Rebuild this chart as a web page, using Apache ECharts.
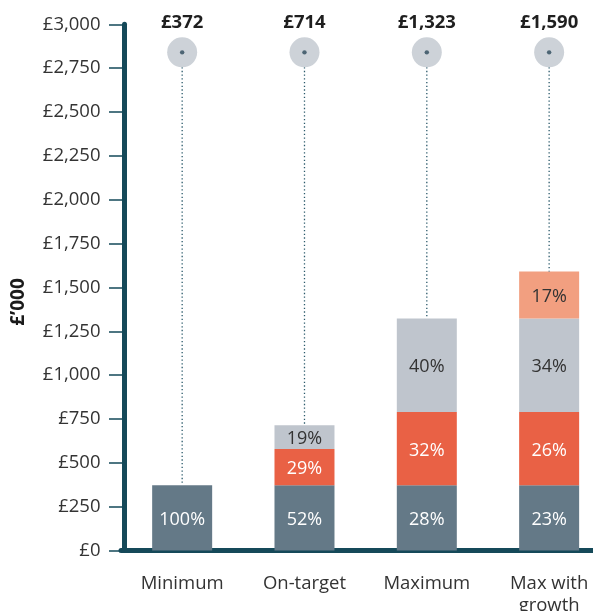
<!DOCTYPE html>
<html>
<head>
<meta charset="utf-8">
<style>
  html, body { margin: 0; padding: 0; background: #fff; overflow: hidden; }
  #chart { width: 593px; height: 611px; }
</style>
<script src="https://cdn.jsdelivr.net/npm/echarts@6/dist/echarts.min.js"></script>
</head>
<body>
<div id="chart"></div>
<script>
// Remuneration scenarios (£'000)
const categories = ['Minimum', 'On-target', 'Maximum', 'Max with\ngrowth'];
const fixedPay    = [372, 372, 372, 372];
const annualBonus = [null, 207, 418, 418];
const ltip        = [null, 135, 533, 533];
const shareGrowth = [null, null, null, 267];
const yTicks = { min: 0, max: 3000, step: 250 };
const markerLevel = 2840;

const totals = categories.map((_, i) =>
  [fixedPay, annualBonus, ltip, shareGrowth].reduce((s, arr) => s + (arr[i] || 0), 0));

const fontFamily = '"Open Sans", "Noto Sans", sans-serif';
const axisColor = '#154959';
const fmtMoney = v => '£' + Math.round(v).toLocaleString('en-GB');

function pctLabel(color) {
  return {
    show: true,
    position: 'inside',
    color: color,
    fontFamily: fontFamily,
    fontSize: 18,
    offset: [0, 2],
    formatter: p => (p.value ? Math.round(p.value / totals[p.dataIndex] * 100) + '%' : '')
  };
}

function stackSeries(name, data, color, textColor) {
  return {
    name: name,
    type: 'bar',
    stack: 'pay',
    barWidth: 60,
    data: data,
    itemStyle: { color: color },
    label: pctLabel(textColor),
    emphasis: { disabled: true },
    z: 2
  };
}

const chart = echarts.init(document.getElementById('chart'), null, { renderer: 'canvas' });

chart.setOption({
  animation: false,
  grid: {
    left: 121, top: 24.3, width: 489.3, height: 526.2,
    containLabel: false, outerBoundsMode: 'none'
  },
  xAxis: {
    type: 'category',
    data: categories,
    offset: 2,
    axisLine: { show: true, lineStyle: { color: axisColor, width: 5 } },
    axisTick: { show: false },
    axisLabel: {
      color: '#333',
      fontFamily: fontFamily,
      fontSize: 18.5,
      lineHeight: 22,
      margin: 20,
      interval: 0,
      hideOverlap: false
    }
  },
  yAxis: {
    type: 'value',
    min: yTicks.min,
    max: yTicks.max,
    interval: yTicks.step,
    offset: -3.5,
    axisLine: { show: true, lineStyle: { color: axisColor, width: 5 } },
    axisTick: { show: true, length: 15.5, lineStyle: { color: axisColor, width: 1.5 } },
    splitLine: { show: false },
    axisLabel: {
      color: '#333',
      fontFamily: fontFamily,
      fontSize: 18.5,
      margin: 24,
      formatter: v => fmtMoney(v)
    }
  },
  graphic: [{
    type: 'text',
    x: 18.5,
    y: 302,
    rotation: Math.PI / 2,
    style: {
      text: '£’000',
      fill: '#1a1a1a',
      font: 'bold 19px ' + fontFamily,
      textAlign: 'center',
      textVerticalAlign: 'middle'
    }
  }],
  series: [
    stackSeries('Fixed pay', fixedPay, '#647987', '#ffffff'),
    stackSeries('Annual bonus', annualBonus, '#e96145', '#ffffff'),
    stackSeries('LTIP', ltip, '#bfc5cd', '#333333'),
    stackSeries('Share price growth', shareGrowth, '#f29f80', '#333333'),
    {
      name: 'Total',
      type: 'custom',
      data: categories.map((_, i) => [i, totals[i]]),
      z: 5,
      renderItem: function (params, api) {
        const top = api.coord([api.value(0), markerLevel]);
        const base = api.coord([api.value(0), api.value(1)]);
        return {
          type: 'group',
          children: [
            {
              type: 'line',
              shape: { x1: top[0], y1: top[1], x2: base[0], y2: base[1] },
              style: { stroke: '#2b5a6b', lineWidth: 1.3, lineDash: [1.3, 2.4] }
            },
            {
              type: 'circle',
              shape: { cx: top[0], cy: top[1], r: 15 },
              style: { fill: '#cdd2d8' }
            },
            {
              type: 'circle',
              shape: { cx: top[0], cy: top[1], r: 2.2 },
              style: { fill: '#4d6574' }
            },
            {
              type: 'text',
              x: top[0],
              y: top[1] - 30,
              style: {
                text: fmtMoney(api.value(1)),
                fill: '#1f1f1f',
                font: 'bold 18.5px ' + fontFamily,
                textAlign: 'center',
                textVerticalAlign: 'middle'
              }
            }
          ]
        };
      }
    }
  ]
});
</script>
</body>
</html>
